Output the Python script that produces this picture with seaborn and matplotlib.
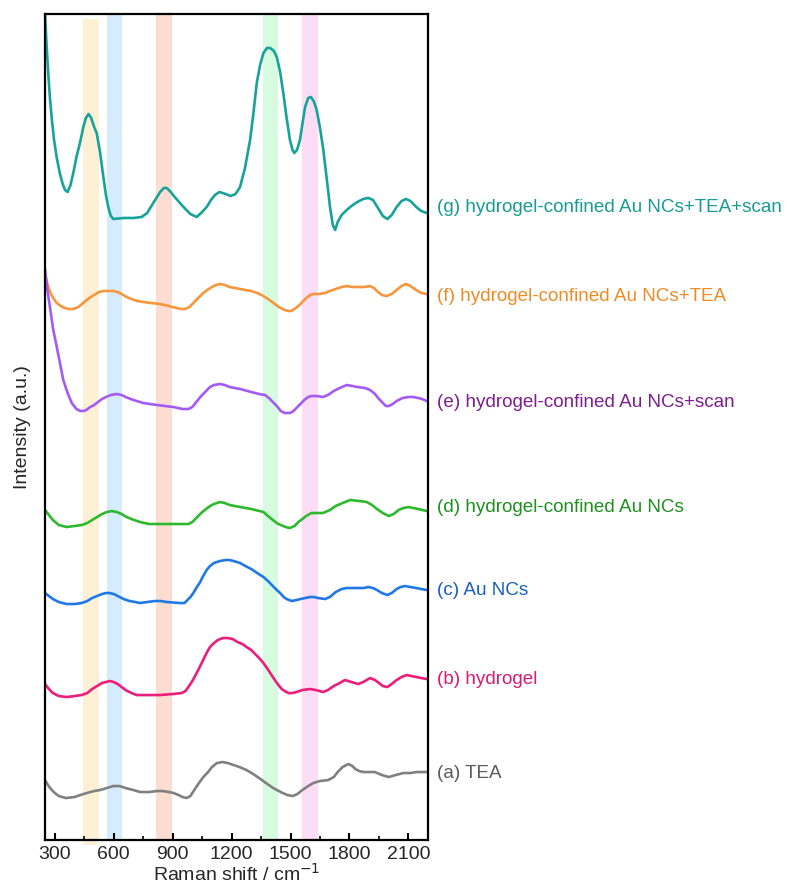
import numpy as np
import pandas as pd
import matplotlib
matplotlib.use("Agg")
import matplotlib.pyplot as plt
from matplotlib.ticker import MultipleLocator
import seaborn as sns

sns.set_theme(style="white")
plt.rcParams["font.family"] = ["Liberation Sans", "DejaVu Sans"]

# Raman spectra (stacked, arbitrary intensity units with offsets included)
x_g = [250, 258, 266, 275, 285, 296, 310, 325, 340, 352, 365, 380, 395, 410, 428, 445, 458, 472, 485, 500,
       513, 530, 547, 560, 572, 585, 598, 648, 700, 742, 770, 801, 836, 855, 870, 890, 910, 937, 960, 990,
       1022, 1045, 1073, 1095, 1115, 1138, 1170, 1195, 1220, 1243, 1268, 1294, 1310, 1328, 1345, 1362,
       1380, 1396, 1415, 1430, 1447, 1463, 1480, 1497, 1510, 1519, 1533, 1548, 1562, 1574, 1590, 1603, 1618,
       1633, 1650, 1667, 1685, 1701, 1715, 1727, 1740, 1760, 1786, 1810, 1840, 1870, 1896, 1920, 1945, 1970,
       1993, 2015, 2040, 2065, 2088, 2110, 2140, 2165, 2193]
y_g = [826, 795, 768, 742, 720, 700, 682, 667, 656, 650, 648, 655, 668, 683, 697, 713, 722, 726, 722, 713,
       707, 688, 663, 645, 633, 624, 621, 622, 622, 623, 627, 637, 648, 652, 652, 648, 643, 637, 632, 626,
       623, 627, 633, 640, 645, 648, 646, 644, 646, 653, 672, 700, 725, 757, 775, 787,
       792, 792, 789, 783, 768, 747, 722, 700, 690, 687, 690, 700, 718, 733, 742, 743, 739,
       730, 712, 690, 660, 633, 615, 610, 618, 625, 630, 634, 638, 641, 642, 640, 632, 624,
       621, 625, 633, 639, 641, 639, 633, 629, 627]

x_f = [250, 265, 280, 295, 310, 330, 350, 372, 394, 420, 450, 475, 500, 525, 550, 575, 598, 620, 640, 665,
       690, 720, 750, 790, 836, 880, 920, 945, 963, 985, 1000, 1025, 1050, 1075, 1100, 1120, 1141, 1165, 1190,
       1215, 1243, 1270, 1300, 1330, 1362, 1400, 1440, 1470, 1490, 1503, 1520, 1540, 1560, 1580, 1600, 1616,
       1645, 1676, 1700, 1730, 1760, 1786, 1815, 1845, 1875, 1905, 1925, 1945, 1965, 1990, 2015, 2040, 2065,
       2088, 2110, 2140, 2165, 2193]
y_f = [565, 554, 546, 541, 537, 534, 532, 531, 531, 533, 538, 542, 545, 548, 549, 549, 549, 548, 546, 543,
       541, 539, 538, 537, 536, 534, 532, 531, 531, 533, 536, 541, 546, 550, 553, 555, 556, 555, 553,
       552, 551, 550, 549, 547, 544, 539, 533, 530, 529, 529, 531, 534, 538, 542, 545, 546,
       546, 547, 549, 551, 553, 554, 553, 553, 553, 554, 552, 548, 545, 544, 546, 550, 554,
       556, 554, 550, 547, 546]

x_e = [250, 262, 275, 292, 310, 325, 343, 365, 386, 410, 430, 445, 460, 480, 500, 520, 540, 560, 585, 615,
       640, 660, 700, 750, 820, 903, 950, 980, 1000, 1020, 1045, 1070, 1090, 1110, 1141, 1165, 1190, 1243,
       1300, 1340, 1370, 1390, 1410, 1430, 1450, 1470, 1497, 1515, 1530, 1550, 1570, 1590, 1606, 1635, 1665,
       1690, 1720, 1750, 1786, 1815, 1840, 1879, 1905, 1930, 1950, 1970, 1985, 2001, 2020, 2040, 2070, 2100,
       2125, 2150, 2170, 2193]
y_e = [571, 550, 533, 510, 493, 478, 460, 447, 437, 431, 429, 429, 430, 433, 435, 438, 441, 443, 445, 446,
       445, 443, 440, 437, 435, 433, 431, 431, 433, 438, 444, 449, 453, 455, 456, 455, 453, 451,
       448, 446, 445, 442, 438, 434, 429, 427, 427, 429, 432, 436, 440, 443, 444, 444, 443,
       445, 449, 452, 455, 454, 453, 452, 450, 446, 441, 437, 434, 434, 436, 439, 442, 443,
       443, 442, 441, 439]

x_d = [250, 270, 290, 320, 360, 400, 437, 465, 490, 515, 540, 565, 590, 615, 640, 665, 690, 734, 780, 836,
       900, 980, 1000, 1020, 1045, 1070, 1090, 1110, 1141, 1165, 1190, 1243, 1300, 1362, 1385, 1410, 1430,
       1450, 1475, 1497, 1520, 1540, 1560, 1580, 1606, 1635, 1665, 1700, 1730, 1765, 1803, 1850, 1888, 1915,
       1940, 1970, 2000, 2025, 2050, 2075, 2100, 2125, 2150, 2193]
y_d = [330, 325, 320, 315, 313, 314, 315, 317, 320, 323, 326, 328, 329, 328, 326, 323, 321, 318, 316, 316,
       316, 316, 318, 322, 327, 331, 334, 336, 338, 337, 335, 333, 331, 328, 324, 320, 317,
       315, 313, 312, 314, 318, 321, 324, 327, 327, 327, 330, 334, 337, 340, 339, 338, 335,
       331, 327, 324, 326, 330, 332, 333, 332, 331, 329]

x_c = [250, 270, 290, 320, 360, 400, 437, 465, 490, 515, 540, 560, 577, 600, 620, 650, 680, 710, 734, 770,
       810, 840, 870, 937, 960, 975, 990, 1005, 1020, 1040, 1055, 1073, 1090, 1110, 1140, 1170, 1190, 1210,
       1243, 1270, 1300, 1330, 1362, 1385, 1410, 1430, 1447, 1465, 1480, 1506, 1530, 1550, 1575, 1599, 1620,
       1640, 1676, 1700, 1730, 1760, 1786, 1815, 1840, 1870, 1896, 1920, 1940, 1965, 1993, 2015, 2040, 2060,
       2083, 2110, 2140, 2165, 2193]
y_c = [247, 244, 241, 238, 236, 236, 237, 239, 242, 244, 246, 247, 247, 246, 244, 241, 239, 238, 237, 238,
       239, 239, 238, 237, 237, 240, 243, 247, 252, 258, 264, 270, 274, 277, 279, 280, 280, 279,
       277, 274, 271, 267, 263, 259, 254, 250, 247, 243, 241, 239, 240, 241, 242, 243, 243,
       242, 241, 243, 248, 251, 252, 252, 252, 252, 253, 252, 250, 247, 245, 247, 251, 253,
       254, 253, 252, 251, 250]

x_b = [250, 270, 290, 320, 360, 400, 437, 465, 490, 515, 540, 560, 581, 600, 620, 640, 660, 690, 717, 770,
       836, 900, 946, 965, 980, 1000, 1022, 1040, 1055, 1075, 1090, 1110, 1130, 1155, 1180, 1205, 1230, 1255,
       1276, 1300, 1320, 1340, 1362, 1380, 1400, 1420, 1438, 1455, 1470, 1489, 1510, 1530, 1560, 1599, 1630,
       1665, 1690, 1720, 1750, 1777, 1810, 1845, 1870, 1905, 1930, 1950, 1970, 1993, 2015, 2040, 2065, 2091,
       2115, 2140, 2165, 2193]
y_b = [156, 151, 147, 144, 143, 144, 145, 147, 151, 154, 157, 158, 159, 158, 156, 153, 150, 147, 145, 145,
       145, 146, 147, 149, 153, 159, 167, 174, 180, 188, 193, 197, 200, 202, 202, 201, 198, 196,
       193, 190, 186, 182, 177, 172, 166, 160, 155, 151, 149, 147, 147, 148, 150, 151, 150,
       148, 150, 154, 157, 160, 158, 156, 158, 162, 160, 157, 154, 153, 156, 160, 163, 165,
       164, 163, 162, 161]

x_a = [250, 265, 280, 300, 320, 357, 400, 430, 462, 500, 530, 565, 598, 630, 660, 700, 734, 780, 819, 850,
       880, 905, 930, 950, 971, 990, 1010, 1030, 1056, 1080, 1100, 1125, 1154, 1180, 1210, 1240, 1276, 1310,
       1340, 1375, 1412, 1440, 1460, 1485, 1511, 1535, 1560, 1590, 1616, 1650, 1692, 1720, 1740, 1765, 1794,
       1815, 1830, 1850, 1871, 1900, 1930, 1965, 2000, 2035, 2074, 2110, 2140, 2165, 2193]
y_a = [60, 55, 51, 47, 44, 42, 43, 45, 47, 49, 50, 52, 54, 54, 52, 50, 48, 48, 49, 49,
       48, 47, 45, 43, 42, 44, 50, 56, 63, 68, 73, 77, 78, 77, 75, 73, 70, 66,
       62, 57, 52, 49, 47, 45, 44, 46, 50, 54, 57, 59, 60, 63, 68, 73, 76,
       74, 71, 69, 68, 68, 68, 65, 63, 65, 67, 67, 68, 68, 68]

labels = ["(g) hydrogel-confined Au NCs+TEA+scan", "(f) hydrogel-confined Au NCs+TEA",
          "(e) hydrogel-confined Au NCs+scan", "(d) hydrogel-confined Au NCs",
          "(c) Au NCs", "(b) hydrogel", "(a) TEA"]
label_y = [632, 544, 438, 333, 250, 161, 67]
line_colors = ["#17A39A", "#F7963C", "#A45BF5", "#2DB82D", "#1F78E6", "#EB1E79", "#808080"]
text_colors = ["#169C94", "#F08A24", "#7D1E8C", "#1F8F1F", "#1A5FBF", "#D81B72", "#5A5A5A"]

# Highlighted Raman bands (cm^-1)
band_lo = [445, 566, 815, 1360, 1559]
band_hi = [525, 642, 897, 1436, 1640]
band_colors = ["#FDF0D5", "#D5ECFC", "#FDDDD2", "#D6FBE0", "#FCDDF5"]
band_ymin = [-0.006, 0.0, 0.0, 0.0, 0.0]
band_ymax = [0.994, 1.0, 1.0, 1.0, 1.0]

xs = [x_g, x_f, x_e, x_d, x_c, x_b, x_a]
ys = [y_g, y_f, y_e, y_d, y_c, y_b, y_a]
df = pd.concat([pd.DataFrame({"shift": x, "intensity": y, "sample": lab})
                for x, y, lab in zip(xs, ys, labels)], ignore_index=True)

fig = plt.figure(figsize=(7.94, 8.85), dpi=100)
ax = fig.add_axes([0.0567, 0.0508, 0.4824, 0.9334])

for lo, hi, c, y0, y1 in zip(band_lo, band_hi, band_colors, band_ymin, band_ymax):
    ax.axvspan(lo, hi, ymin=y0, ymax=y1, color=c, zorder=0, lw=0, clip_on=False)

sns.lineplot(data=df, x="shift", y="intensity", hue="sample", hue_order=labels,
             palette=line_colors, estimator=None, sort=False, linewidth=1.9,
             legend=False, ax=ax, zorder=3)
for ln in ax.get_lines():
    ln.set_solid_joinstyle("round")
    ln.set_solid_capstyle("round")

trans = ax.get_yaxis_transform()
for lab, yy, c in zip(labels, label_y, text_colors):
    ax.text(1.0235, yy, lab, transform=trans, color=c, fontsize=13.6,
            ha="left", va="center", clip_on=False)

ax.set_xlim(250, 2200)
ax.set_ylim(0, 826)
ax.set_yticks([])
ax.set_xticks([300, 600, 900, 1200, 1500, 1800, 2100])
ax.xaxis.set_minor_locator(MultipleLocator(150))
ax.tick_params(axis="x", which="major", direction="in", length=5, width=1.5,
               labelsize=14, pad=4, bottom=True, color="black")
ax.tick_params(axis="x", which="minor", direction="in", length=3, width=1.2,
               bottom=True, color="black")
for sp in ax.spines.values():
    sp.set_color("black")
    sp.set_linewidth(1.6)
    sp.set_zorder(4)

ax.set_xlabel("Raman shift / cm$^{-1}$", fontsize=14, labelpad=0)
ax.set_ylabel("Intensity (a.u.)", fontsize=14, labelpad=10)

fig.savefig("out.png", dpi=100)
